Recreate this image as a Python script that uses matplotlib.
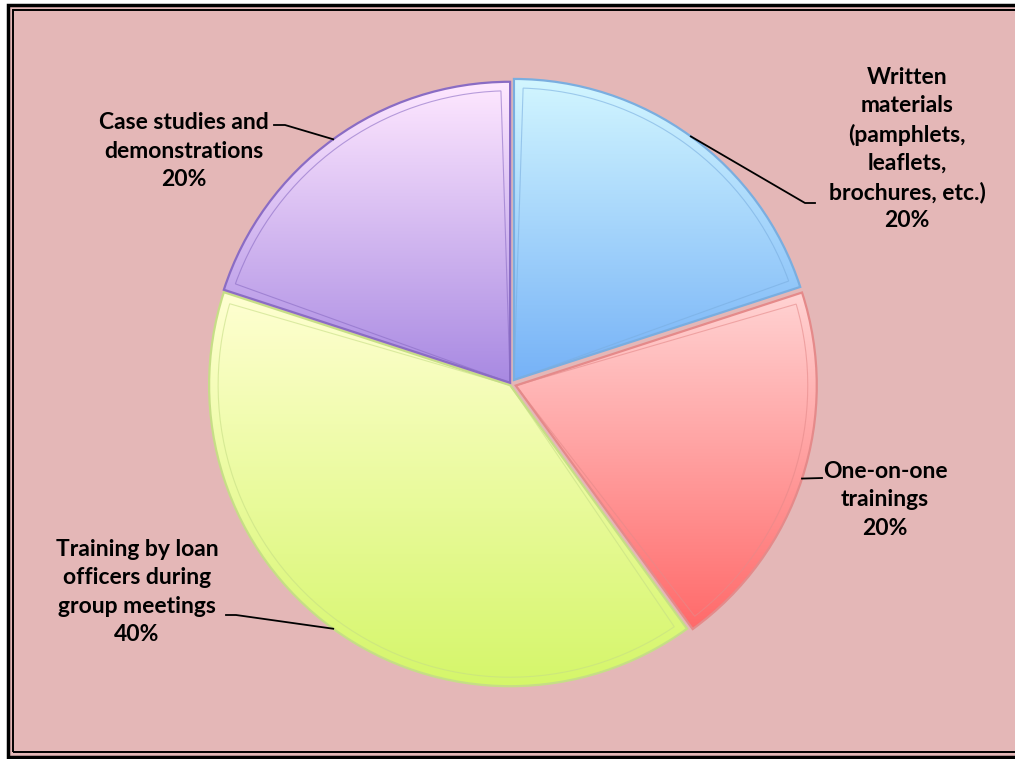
import numpy as np
import matplotlib.pyplot as plt
from matplotlib.colors import LinearSegmentedColormap
from matplotlib.patches import Rectangle, Wedge

categories = ['Written\nmaterials\n(pamphlets,\nleaflets,\nbrochures, etc.)',
              'One-on-one\ntrainings',
              'Training by loan\nofficers during\ngroup meetings',
              'Case studies and\ndemonstrations']
values = [20, 20, 40, 20]
top_colors = ['#d2f6ff', '#ffd3d3', '#ffffd2', '#ffe8ff']
bottom_colors = ['#76b2f7', '#ff6a6a', '#d5f66a', '#a889e2']
edge_colors = ['#7aaee0', '#e58a8a', '#c6de86', '#8a6cc4']

W, H = 1015, 759
BG = '#e4b7b7'

fig = plt.figure(figsize=(W / 100, H / 100), dpi=100)
ax = fig.add_axes([0, 0, 1, 1])

def py(y):
    # pixel row -> data y
    return H - y

cx, cy, r = 511, py(384), 301
explode = [5, 5, 1.5, 1.5]   # pixel offsets (pie works in data units here)

wedges, _ = ax.pie(values, explode=explode, startangle=90, counterclock=False,
                   center=(cx, cy), radius=r,
                   wedgeprops=dict(linewidth=1.6, zorder=3))
ax.axis('off')

# frame
fig.patch.set_facecolor('white')
ax.add_patch(Rectangle((8, py(757)), W, 757 - 5, facecolor=BG, edgecolor='black',
                       linewidth=2.5, zorder=0))
ax.add_patch(Rectangle((13, py(752)), W, 752 - 10, facecolor='none', edgecolor='black',
                       linewidth=1.4, zorder=0.5))

# gradient fills clipped to the wedges
for w, c1, c2, ec in zip(wedges, top_colors, bottom_colors, edge_colors):
    wx, wy = w.center
    ang = np.radians(np.linspace(w.theta1, w.theta2, 60))
    xs = np.r_[wx, wx + w.r * np.cos(ang)]
    ys = np.r_[wy, wy + w.r * np.sin(ang)]
    cmap = LinearSegmentedColormap.from_list('g', [c1, c2])
    grad = np.linspace(0, 1, 256).reshape(-1, 1)
    im = ax.imshow(grad, cmap=cmap, aspect='auto', origin='upper',
                   extent=(xs.min(), xs.max(), ys.min(), ys.max()), zorder=2)
    im.set_clip_path(w)
    w.set_facecolor('none')
    w.set_edgecolor(ec)
    # inner bevel line
    inner = Wedge((wx, wy), w.r - 9, w.theta1 + 1.8, w.theta2 - 1.8,
                  facecolor='none', edgecolor=ec, linewidth=0.8, alpha=0.6, zorder=3)
    ax.add_patch(inner)

ax.set_xlim(0, W)
ax.set_ylim(0, H)
ax.set_aspect('auto')

# labels
label_pos = [(907, 149), (885, 500), (137, 592), (184, 151)]
for name, v, (lx, ly) in zip(categories, values, label_pos):
    ax.text(lx, py(ly), f'{name}\n{v}%', ha='center', va='center', fontsize=16.5,
            fontweight='bold', family='Lato', linespacing=1.42, zorder=5)

# leader lines (from label side to the wedge rim at mid-angle)
elbows = [[(815, 203), (805, 203)],
          [(822, 478)],
          [(226, 615), (236, 615)],
          [(274, 125), (285, 125)]]
for w, pts in zip(wedges, elbows):
    mid = np.radians((w.theta1 + w.theta2) / 2)
    ax_ = w.center[0] + w.r * np.cos(mid)
    ay_ = w.center[1] + w.r * np.sin(mid)
    xs = [p[0] for p in pts] + [ax_]
    ys = [py(p[1]) for p in pts] + [ay_]
    ax.plot(xs, ys, color='black', linewidth=1.3, zorder=4)

fig.savefig('out.png', dpi=100, facecolor='white')
